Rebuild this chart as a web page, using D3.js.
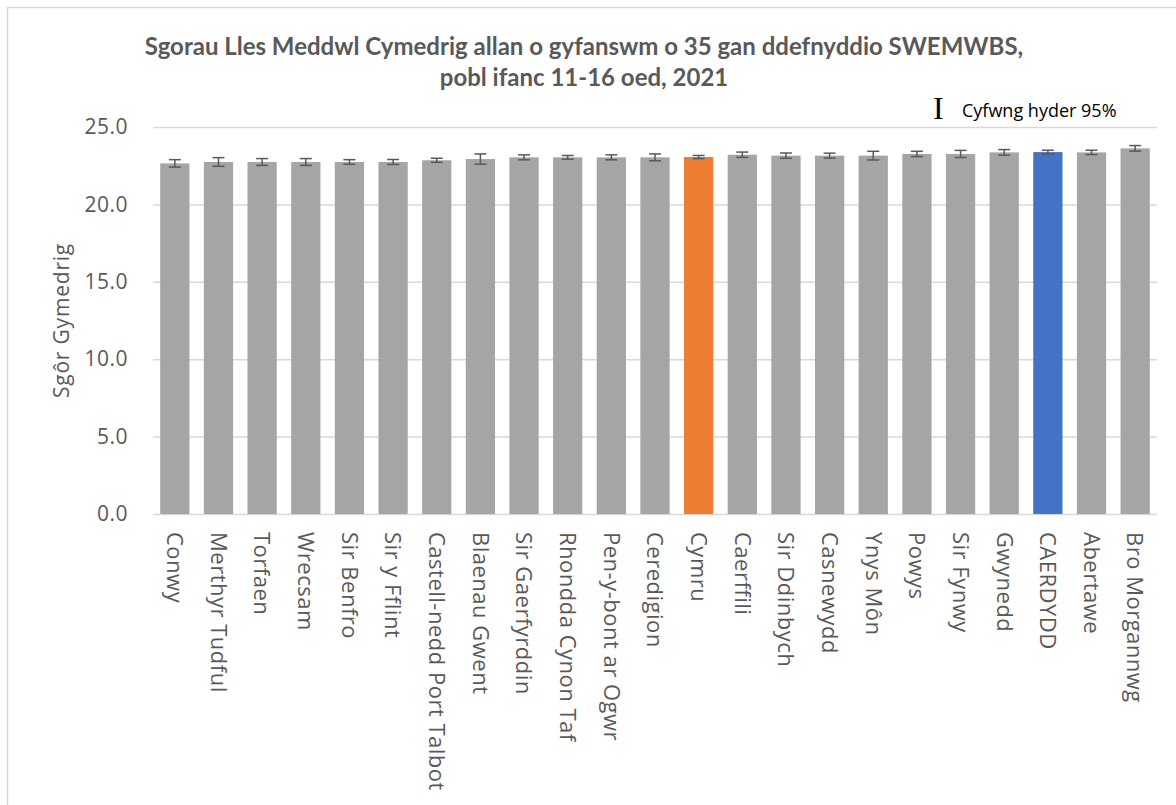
<!DOCTYPE html>
<html>
<head>
<meta charset="utf-8">
<script src="https://cdn.jsdelivr.net/npm/d3@7"></script>
<style>
	body { margin: 0; background: #fff; }
	text { font-family: 'Open Sans', sans-serif; }
</style>
</head>
<body>
<div class="box"></div>
<script>
var areas = ['Conwy', 'Merthyr Tudful', 'Torfaen', 'Wrecsam', 'Sir Benfro', 'Sir y Fflint',
	'Castell-nedd Port Talbot', 'Blaenau Gwent', 'Sir Gaerfyrddin', 'Rhondda Cynon Taf',
	'Pen-y-bont ar Ogwr', 'Ceredigion', 'Cymru', 'Caerffili', 'Sir Ddinbych', 'Casnewydd',
	'Ynys Môn', 'Powys', 'Sir Fynwy', 'Gwynedd', 'CAERDYDD', 'Abertawe', 'Bro Morgannwg'];

var means = [22.65, 22.74, 22.74, 22.74, 22.74, 22.74, 22.85, 22.93, 23.04, 23.04, 23.04, 23.04,
	23.06, 23.21, 23.15, 23.15, 23.15, 23.26, 23.26, 23.36, 23.38, 23.36, 23.62];

// half width of the 95% interval
var ci = [0.24, 0.28, 0.22, 0.22, 0.15, 0.16, 0.13, 0.33, 0.16, 0.12, 0.16, 0.22,
	0.10, 0.17, 0.17, 0.16, 0.28, 0.17, 0.23, 0.18, 0.12, 0.14, 0.18];

var yTicks = [0, 5, 10, 15, 20, 25];

var titleLines = ['Sgorau Lles Meddwl Cymedrig allan o gyfanswm o 35 gan ddefnyddio SWEMWBS,',
	'pobl ifanc 11-16 oed, 2021'];

var width = 1176, height = 805;
var plotLeft = 153, plotRight = 1157, plotTop = 127, plotBottom = 514;

var svg = d3.select('.box')
	.append('svg')
	.attr('width', width)
	.attr('height', height);

// chart frame
svg.append('rect')
	.attr('x', 7.5)
	.attr('y', 7.5)
	.attr('width', width)
	.attr('height', height)
	.style('fill', 'none')
	.style('stroke', '#d9d9d9')
	.style('stroke-width', 1.5);

var data = areas.map(function(d, i) { return {name: d, mean: means[i], ci: ci[i]}; });

var x = d3.scaleBand()
	.domain(areas)
	.range([plotLeft, plotRight])
	.paddingInner(0.33)
	.paddingOuter(0.165);

var y = d3.scaleLinear()
	.domain([0, 25])
	.range([plotBottom, plotTop]);

// gridlines + tick labels
var yAxis = d3.axisLeft(y)
	.tickValues(yTicks)
	.tickFormat(d3.format('.1f'))
	.tickSize(-(plotRight - plotLeft))
	.tickPadding(25);

svg.append('g')
	.attr('transform', 'translate(' + plotLeft + ',0)')
	.call(yAxis)
	.call(function(g) {
		g.select('.domain').remove();
		g.selectAll('.tick line')
			.style('stroke', '#d9d9d9')
			.style('stroke-width', 1.5);
		g.selectAll('.tick text')
			.style('font-size', '21px')
			.style('letter-spacing', '0.5px')
			.style('fill', '#595959')
			.style('font-family', "'Open Sans', sans-serif");
	});

function barColor(d) {
	if (d.name === 'Cymru') return '#ed7d31';
	if (d.name === 'CAERDYDD') return '#4472c4';
	return '#a5a5a5';
}

svg.selectAll('rect.bar')
	.data(data)
	.enter()
	.append('rect')
		.attr('class', 'bar')
		.attr('x', function(d) { return x(d.name); })
		.attr('y', function(d) { return y(d.mean); })
		.attr('width', x.bandwidth())
		.attr('height', function(d) { return y(0) - y(d.mean); })
		.style('fill', barColor);

// error bars
var err = svg.selectAll('g.err')
	.data(data)
	.enter()
	.append('g')
		.attr('class', 'err')
		.style('stroke', '#595959')
		.style('stroke-width', 1.5);

err.append('line')
	.attr('x1', function(d) { return x(d.name) + x.bandwidth() / 2; })
	.attr('x2', function(d) { return x(d.name) + x.bandwidth() / 2; })
	.attr('y1', function(d) { return y(d.mean + d.ci); })
	.attr('y2', function(d) { return y(d.mean - d.ci); });

[1, -1].forEach(function(s) {
	err.append('line')
		.attr('x1', function(d) { return x(d.name) + x.bandwidth() / 2 - 6; })
		.attr('x2', function(d) { return x(d.name) + x.bandwidth() / 2 + 6; })
		.attr('y1', function(d) { return y(d.mean + s * d.ci); })
		.attr('y2', function(d) { return y(d.mean + s * d.ci); });
});

// category labels, rotated to read downwards
svg.selectAll('text.cat')
	.data(areas)
	.enter()
	.append('text')
		.attr('class', 'cat')
		.attr('transform', function(d) {
			return 'translate(' + (x(d) + x.bandwidth() / 2) + ',' + (plotBottom + 18) + ') rotate(90)';
		})
		.attr('dy', '0.35em')
		.style('font-family', "'Open Sans', sans-serif")
		.style('font-size', '22px')
		.style('letter-spacing', '0.5px')
		.style('fill', '#595959')
		.text(function(d) { return d; });

// y axis title
svg.append('text')
	.attr('transform', 'translate(62,' + ((plotTop + plotBottom) / 2) + ') rotate(-90)')
	.attr('text-anchor', 'middle')
	.attr('dy', '0.35em')
	.style('font-size', '21px')
	.style('letter-spacing', '0.8px')
	.style('fill', '#595959')
	.text('Sgôr Gymedrig');

// title
svg.selectAll('text.title')
	.data(titleLines)
	.enter()
	.append('text')
		.attr('class', 'title')
		.attr('x', 584)
		.attr('y', function(d, i) { return 55 + i * 31; })
		.attr('text-anchor', 'middle')
		.style('font-family', 'Lato, sans-serif')
		.style('font-weight', 'bold')
		.style('font-size', '24px')
		.style('fill', '#595959')
		.text(function(d) { return d; });

// legend
svg.append('text')
	.attr('x', 933)
	.attr('y', 119)
	.style('font-family', "'Liberation Serif', serif")
	.style('font-size', '32px')
	.style('fill', '#000')
	.text('I');

svg.append('text')
	.attr('x', 962)
	.attr('y', 117)
	.style('font-size', '18px')
	.style('fill', '#000')
	.text('Cyfwng hyder 95%');
</script>
</body>
</html>
